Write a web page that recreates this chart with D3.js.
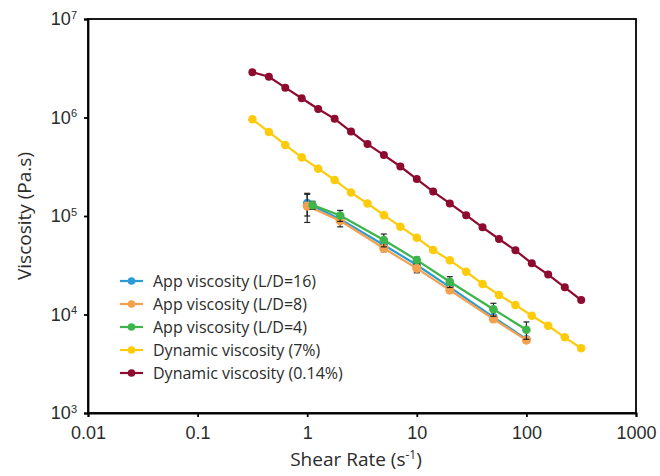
<!DOCTYPE html>
<html>
<head>
<meta charset="utf-8">
<script src="https://cdn.jsdelivr.net/npm/d3@7"></script>
<style>
  body { margin: 0; background: #fff; }
  svg { display: block; font-family: "Open Sans", "DejaVu Sans", sans-serif; }
</style>
</head>
<body>
<div id="chart"></div>
<script>
(function(d3) {
  'use strict';

  var width = 660;
  var height = 476;
  var margin = {top: 19, right: 24, bottom: 63, left: 88};

  // shear rates (s-1)
  var rateDyn = [0.316, 0.447, 0.631, 0.891, 1.26, 1.78, 2.51, 3.55, 5.01, 7.08, 10,
                 14.1, 20.0, 28.2, 39.8, 56.2, 79.4, 112, 158, 224, 316];
  var rateApp = [1, 2, 5, 10, 20, 50, 100];
  var rateApp4 = [1.12, 2, 5, 10, 20, 50, 100];

  // viscosities (Pa.s)
  var visc16 = [1.35e5, 9.3e4, 5.08e4, 3.18e4, 1.90e4, 9.4e3, 5.6e3];
  var err16 = [3.5e4, 6e3, 3e3, 1.5e3, 1e3, 5e2, 3e2];
  var visc8 = [1.26e5, 8.96e4, 4.70e4, 2.94e4, 1.77e4, 9.0e3, 5.5e3];
  var err8 = [4e4, 1.2e4, 3.6e3, 2.9e3, 1e3, 5e2, 3e2];
  var visc4 = [1.29e5, 1.01e5, 5.71e4, 3.57e4, 2.15e4, 1.13e4, 7.0e3];
  var err4 = [1.2e4, 1.3e4, 8.5e3, 2.5e3, 2.7e3, 1.7e3, 1.4e3];
  var viscDyn7 = [9.59e5, 7.13e5, 5.26e5, 3.94e5, 3.02e5, 2.32e5, 1.73e5, 1.34e5, 1.02e5, 7.79e4, 6.02e4,
                  4.52e4, 3.55e4, 2.72e4, 2.04e4, 1.58e4, 1.25e4, 9.72e3, 7.69e3, 5.87e3, 4.54e3];
  var viscDyn014 = [2.88e6, 2.59e6, 2.01e6, 1.57e6, 1.22e6, 9.69e5, 7.2e5, 5.37e5, 4.15e5, 3.18e5, 2.37e5,
                    1.77e5, 1.34e5, 1.02e5, 7.67e4, 5.84e4, 4.48e4, 3.31e4, 2.54e4, 1.89e4, 1.40e4];

  var xTicks = [0.01, 0.1, 1, 10, 100, 1000];
  var yTicks = [1e3, 1e4, 1e5, 1e6, 1e7];

  var series = [
    {name: 'App viscosity (L/D=16)', color: '#2a9bd6', x: rateApp, y: visc16, err: err16, r: 4.3},
    {name: 'App viscosity (L/D=8)', color: '#f5a04c', x: rateApp, y: visc8, err: err8, r: 4.6},
    {name: 'App viscosity (L/D=4)', color: '#3db54a', x: rateApp4, y: visc4, err: err4, r: 4.3},
    {name: 'Dynamic viscosity (7%)', color: '#fecb0a', x: rateDyn, y: viscDyn7, err: null, r: 4.3},
    {name: 'Dynamic viscosity (0.14%)', color: '#8c0b2f', x: rateDyn, y: viscDyn014, err: null, r: 4}
  ];

  var textColor = '#2b2b2b';

  var svg = d3.select('#chart').append('svg')
    .attr('width', width)
    .attr('height', height);

  var x = d3.scaleLog().domain([0.01, 1000]).range([margin.left, width - margin.right]);
  var y = d3.scaleLog().domain([1e3, 1e7]).range([height - margin.bottom, margin.top]);

  // frame
  svg.append('rect')
    .attr('x', margin.left)
    .attr('y', margin.top)
    .attr('width', width - margin.left - margin.right)
    .attr('height', height - margin.top - margin.bottom)
    .attr('fill', 'none')
    .attr('stroke', '#000')
    .attr('stroke-width', 1.8);

  var xAxis = svg.append('g')
    .attr('transform', 'translate(0,' + (height - margin.bottom) + ')')
    .call(d3.axisBottom(x).tickValues(xTicks).tickSize(4).tickPadding(9)
      .tickFormat(function(d) { return String(d); }));
  xAxis.select('.domain').attr('stroke-width', 1.8);
  xAxis.selectAll('.tick line').attr('stroke-width', 1.8);
  xAxis.selectAll('.tick text').attr('font-size', 18).attr('fill', textColor);

  var yAxis = svg.append('g')
    .attr('transform', 'translate(' + margin.left + ',0)')
    .call(d3.axisLeft(y).tickValues(yTicks).tickSize(4).tickPadding(7)
      .tickFormat(function() { return ''; }));
  yAxis.select('.domain').attr('stroke-width', 1.8);
  yAxis.selectAll('.tick line').attr('stroke-width', 1.8);
  yAxis.selectAll('.tick text').each(function(d) {
    var t = d3.select(this).attr('font-size', 18).attr('fill', textColor);
    t.append('tspan').text('10');
    t.append('tspan').attr('font-size', 11).attr('dy', '-0.6em').text(Math.round(Math.log10(d)));
  });

  // axis titles
  svg.append('text')
    .attr('x', 356)
    .attr('y', 466)
    .attr('text-anchor', 'middle')
    .attr('font-size', 19)
    .attr('fill', textColor)
    .text('Shear Rate (s')
    .call(function(t) {
      t.append('tspan').attr('font-size', 12).attr('dy', '-0.6em').text('-1');
      t.append('tspan').attr('dy', '0.4em').text(')');
    });

  svg.append('text')
    .attr('transform', 'translate(31,' + ((margin.top + height - margin.bottom) / 2) + ') rotate(-90)')
    .attr('text-anchor', 'middle')
    .attr('font-size', 19)
    .attr('fill', textColor)
    .text('Viscosity (Pa.s)');

  var line = d3.line()
    .x(function(d) { return x(d[0]); })
    .y(function(d) { return y(d[1]); });

  series.forEach(function(s) {
    var pts = s.x.map(function(v, i) { return [v, s.y[i], s.err ? s.err[i] : 0]; });
    var g = svg.append('g');

    if (s.err) {
      var eb = g.selectAll('.err').data(pts).enter().append('g')
        .attr('stroke', '#222').attr('stroke-width', 1.2);
      eb.append('line')
        .attr('x1', function(d) { return x(d[0]); })
        .attr('x2', function(d) { return x(d[0]); })
        .attr('y1', function(d) { return y(d[1] + d[2]); })
        .attr('y2', function(d) { return y(Math.max(d[1] - d[2], 1)); });
      eb.append('line')
        .attr('x1', function(d) { return x(d[0]) - 3; })
        .attr('x2', function(d) { return x(d[0]) + 3; })
        .attr('y1', function(d) { return y(d[1] + d[2]); })
        .attr('y2', function(d) { return y(d[1] + d[2]); });
      eb.append('line')
        .attr('x1', function(d) { return x(d[0]) - 3; })
        .attr('x2', function(d) { return x(d[0]) + 3; })
        .attr('y1', function(d) { return y(d[1] - d[2]); })
        .attr('y2', function(d) { return y(d[1] - d[2]); });
    }

    g.append('path')
      .datum(pts)
      .attr('d', line)
      .attr('fill', 'none')
      .attr('stroke', s.color)
      .attr('stroke-width', 2.2);

    g.selectAll('circle').data(pts).enter().append('circle')
      .attr('cx', function(d) { return x(d[0]); })
      .attr('cy', function(d) { return y(d[1]); })
      .attr('r', s.r)
      .attr('fill', s.color);
  });

  // legend
  var legend = svg.selectAll('.legend')
    .data(series)
    .enter().append('g')
    .attr('class', 'legend')
    .attr('transform', function(d, i) { return 'translate(120,' + (281 + i * 23) + ')'; });

  legend.append('line')
    .attr('x1', 0).attr('x2', 23)
    .attr('stroke', function(d) { return d.color; })
    .attr('stroke-width', 2.2);
  legend.append('circle')
    .attr('cx', 11.5).attr('r', 3.8)
    .attr('fill', function(d) { return d.color; });
  legend.append('text')
    .attr('x', 33)
    .attr('dy', '0.36em')
    .attr('font-size', 16)
    .attr('fill', textColor)
    .text(function(d) { return d.name; });

})(window.d3);
</script>
</body>
</html>
